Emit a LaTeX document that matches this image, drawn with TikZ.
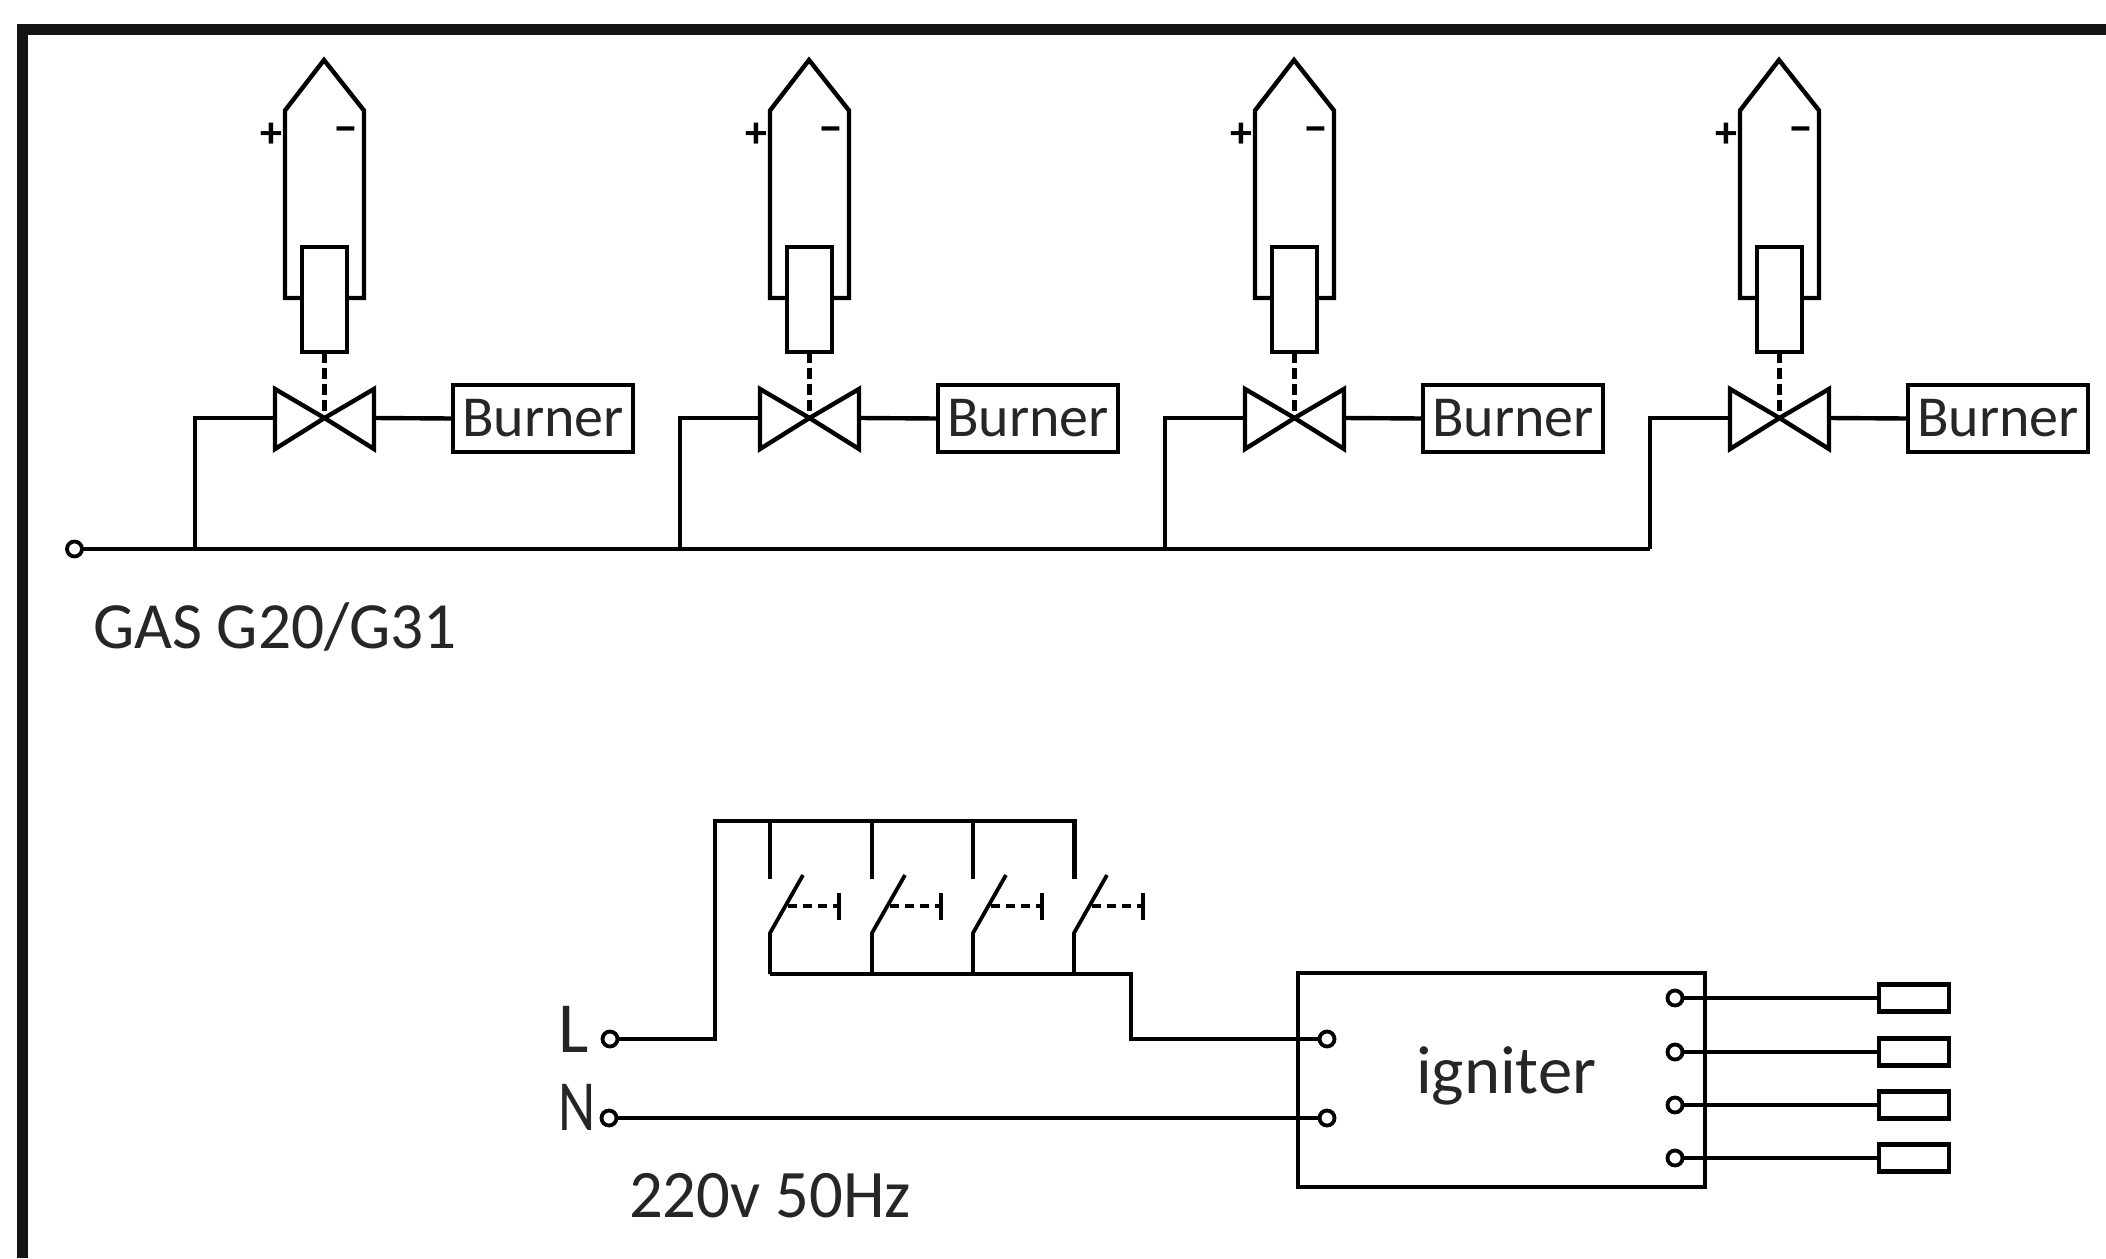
\documentclass[tikz,border=0pt]{standalone}
\usepackage{fontspec}
\setmainfont{Carlito}
\newcommand{\lbl}[3]{\scalebox{#1}[1]{\fontsize{#2}{#2}\selectfont #3}}
\tikzset{
  x=1pt,y=-1pt,
  wire/.style={line width=4.4pt,line join=miter},
  thinwire/.style={line width=3.8pt},
  part/.style={draw=black,line width=4.4pt,fill=white,inner sep=0pt,outer sep=0pt},
  term/.style={circle,draw=black,line width=3.8pt,fill=white,inner sep=0pt,minimum size=15pt,outer sep=0pt},
  burnerbox/.style={part,minimum width=180pt,minimum height=67pt},
  gapbox/.style={part,minimum width=70pt,minimum height=27pt},
  txt/.style={inner sep=0pt,outer sep=0pt,anchor=base west,text=black!85},
  linkdash/.style={line width=4.8pt,dash pattern=on 11pt off 5pt},
  sdash/.style={line width=3.8pt,dash pattern=on 9pt off 6pt},
}
\begin{document}
\begin{tikzpicture}
\useasboundingbox (0,0) rectangle (2106,1258);
\fill[white] (0,0) rectangle (2106,1258);
% frame
\draw[line width=11.5pt,black!92,line join=miter] (22.5,1258) -- (22.5,29.5) -- (2106,29.5);
% gas line
\node[term] (gasin) at (74.5,549) {};
\node[txt] (gaslabel) at (93,648) {\lbl{0.99}{66}{GAS G20/G31}};
\foreach \i/\dx in {1/0,2/485,3/970,4/1455}{
  \begin{scope}[xshift=\dx pt]
    \coordinate (tip\i) at (324,60);
    \coordinate (tap\i) at (195,549);
    \coordinate (bend\i) at (195,418);
    \coordinate (vc\i) at (324.5,418);
    % sensor body
    \draw[wire] (302,298) -- (285,298) -- (285,110.5) -- (tip\i) -- (364,110.5) -- (364,298) -- (347,298);
    \node[part,minimum width=45pt,minimum height=105pt] (sol\i) at (324.5,299.5) {};
    % valve
    \draw[wire,line join=miter] (vc\i) -- (275,389) -- (275,449) -- cycle;
    \draw[wire,line join=miter] (vc\i) -- (374,389) -- (374,449) -- cycle;
    \draw[linkdash] (sol\i.south) -- (vc\i);
    \node[burnerbox] (burner\i) at (543,418.5) {};
    \node[txt] (burnertext\i) at (462,436) {\lbl{1.0}{58}{Burner}};
    \draw[wire] (374,418) -- (burner\i.west);
    \draw[wire] (tap\i) -- (bend\i) -- (275,418);
    \node[font=\fontsize{44}{44}\selectfont\bfseries,inner sep=0pt] (plus\i) at (271,135) {+};
    \node[font=\fontsize{46}{46}\selectfont\bfseries,inner sep=0pt] (minus\i) at (346,135) {\char"2212};
  \end{scope}
}
\draw[wire] (gasin) -- (tap4);
% mains
\node[txt] (Ltext) at (558,1052) {\lbl{1}{72}{L}};
\node[txt] (Ntext) at (558,1130) {\lbl{0.8}{72}{N}};
\node[txt] (voltage) at (629,1217) {\lbl{0.98}{68}{220v 50Hz}};
\node[term] (Lin) at (610,1039) {};
\node[term] (Nin) at (609,1118) {};
% igniter
\node[part,minimum width=407pt,minimum height=214pt] (igniter) at (1501.5,1080) {};
\node[txt] (ignitertext) at (1416,1093) {\lbl{1.01}{68}{igniter}};
\node[term] (igL) at (1327,1039) {};
\node[term] (igN) at (1327,1118) {};
\foreach \i/\y in {1/998,2/1052,3/1105,4/1158}{
  \node[term] (out\i) at (1675,\y) {};
  \node[gapbox] (gap\i) at (1914,\y) {};
  \draw[wire] (out\i) -- (gap\i.west);
}
% switch feed
\coordinate (busA) at (715,821);
\coordinate (busB) at (1075,821);
\coordinate (outA) at (770,974);
\coordinate (outB) at (1131,974);
\draw[wire] (Lin) -- (715,1039) -- (busA) -- (busB) -- (1075,879);
\draw[wire] (outA) -- (outB) -- (1131,1039) -- (igL);
\draw[wire] (Nin) -- (igN);
\foreach \i/\xx in {1/770,2/872,3/973,4/1074}{
  \begin{scope}[xshift=\xx pt]
    \coordinate (top\i) at (0,821);
    \coordinate (hinge\i) at (0,933);
    \coordinate (bot\i) at (0,974);
    \coordinate (blade\i) at (33,875);
    \coordinate (act\i) at (18,906);
    \coordinate (btn\i) at (69,906);
    \draw[thinwire] (top\i) -- (0,879);
    \draw[thinwire] (bot\i) -- (hinge\i) -- (blade\i);
    \draw[sdash] (act\i) -- (btn\i);
    \draw[thinwire] (69,893) -- (69,920);
  \end{scope}
}
\end{tikzpicture}
\end{document}
